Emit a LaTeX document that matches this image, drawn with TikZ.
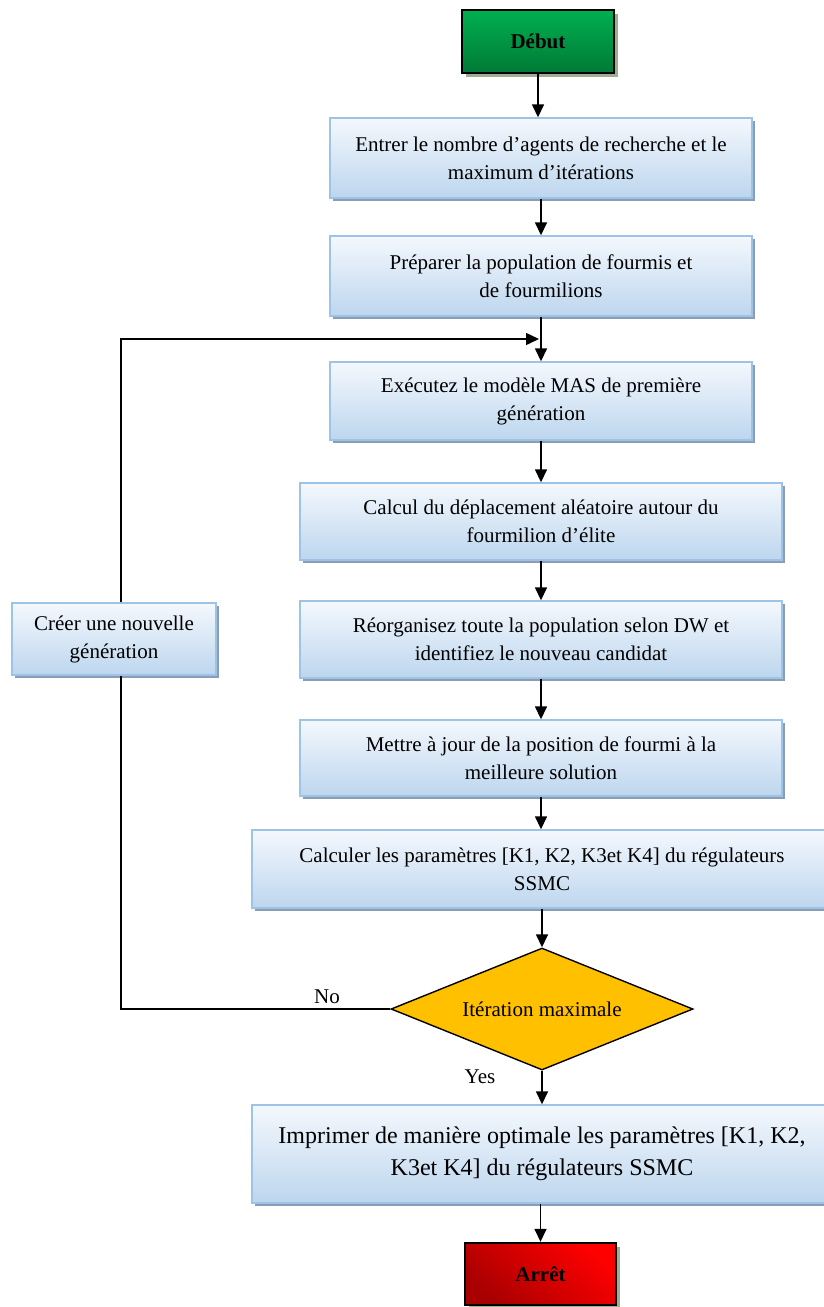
\documentclass[tikz,border=0pt]{standalone}
\usepackage{fontspec}
\setmainfont{Liberation Serif}
\usetikzlibrary{shapes.geometric,arrows.meta,shadows}

\definecolor{boxtop}{HTML}{F4F8FD}
\definecolor{boxbot}{HTML}{BDD6EE}
\definecolor{boxline}{HTML}{9DC3E6}
\definecolor{boxshadow}{HTML}{8A9DB5}
\definecolor{termshadow}{HTML}{9EAE8E}
\definecolor{gotop}{HTML}{00B050}
\definecolor{gobot}{HTML}{007A36}
\definecolor{stopbright}{HTML}{FF0000}
\definecolor{stopdark}{HTML}{A80000}
\definecolor{decfill}{HTML}{FFC000}

\tikzset{
  txt/.style={font=\fontsize{21}{28}\selectfont, align=center},
  procbox/.style={txt, rectangle, inner sep=0pt, draw=boxline, line width=1.4pt,
    top color=boxtop, bottom color=boxbot,
    drop shadow={shadow xshift=3pt, shadow yshift=-3pt, fill=boxshadow, opacity=1}},
  termbox/.style={txt, rectangle, inner sep=0pt, draw=black, line width=2.4pt,
    font=\fontsize{21}{28}\selectfont\bfseries,
    drop shadow={shadow xshift=4pt, shadow yshift=-4pt, fill=termshadow, opacity=1}},
  decbox/.style={txt, diamond, aspect=2.47, inner sep=0pt, draw=black,
    line width=1.4pt, fill=decfill},
  flow/.style={line width=1.5pt, draw=black},
  arr/.style={flow, -{Triangle[length=13pt,width=12pt]}},
  lbl/.style={font=\fontsize{21}{28}\selectfont, inner sep=0pt}
}

\begin{document}
\begin{tikzpicture}[x=1pt, y=-1pt]
  \useasboundingbox (0,0) rectangle (824,1307);
  \clip (0,0) rectangle (824,1307);

  % main column
  \node[termbox, top color=gotop, bottom color=gobot,
        minimum width=152pt, minimum height=63pt] (start) at (538,41.5) {Début};
  \node[procbox, minimum width=422pt, minimum height=80pt] (b1) at (541,158)
    {Entrer le nombre d’agents de recherche et le\\maximum d’itérations};
  \node[procbox, minimum width=422pt, minimum height=80pt] (b2) at (541,276)
    {Préparer la population de fourmis et\\de fourmilions};
  \node[procbox, minimum width=422pt, minimum height=78pt] (b3) at (541,401)
    {Exécutez le modèle MAS de première\\génération};
  \node[procbox, minimum width=482pt, minimum height=77pt] (b4) at (541,521.5)
    {Calcul du déplacement aléatoire autour du\\fourmilion d’élite};
  \node[procbox, minimum width=482pt, minimum height=77pt] (b5) at (541,639.5)
    {Réorganisez toute la population selon DW et\\identifiez le nouveau candidat};
  \node[procbox, minimum width=482pt, minimum height=76pt] (b6) at (541,758)
    {Mettre à jour de la position de fourmi à la\\meilleure solution};
  \node[procbox, minimum width=580pt, minimum height=78pt] (b7) at (542,869)
    {Calculer les paramètres [K1, K2, K3et K4] du régulateurs\\SSMC};
  \node[decbox, minimum width=302pt, minimum height=122pt] (dec) at (542,1009)
    {Itération maximale};
  \node[procbox, font=\fontsize{24}{32}\selectfont,
        minimum width=580pt, minimum height=98pt] (b8) at (542,1154)
    {Imprimer de manière optimale les paramètres [K1, K2,\\K3et K4] du régulateurs SSMC};
  \node[termbox, top color=stopbright, bottom color=stopdark, shading angle=-40,
        minimum width=151pt, minimum height=62pt] (stop) at (540.5,1274) {Arrêt};

  % side box of the loop
  \node[procbox, minimum width=204pt, minimum height=72pt] (newgen) at (114,639)
    {Créer une nouvelle\\génération};

  % guide points
  \coordinate (spine) at (541,0);
  \coordinate (loopx) at (121,0);
  \coordinate (loopin) at (539,339);

  % main flow
  \draw[arr] (start.south) -- (start.south |- b1.north);
  \draw[arr] (b1.south -| spine) -- (b2.north -| spine);
  \draw[arr] (b2.south -| spine) -- (b3.north -| spine);
  \draw[arr] (b3.south -| spine) -- (b4.north -| spine);
  \draw[arr] (b4.south -| spine) -- (b5.north -| spine);
  \draw[arr] (b5.south -| spine) -- (b6.north -| spine);
  \draw[arr] (b6.south -| spine) -- (b7.north -| spine);
  \draw[arr] (b7.south -| dec.north) -- (dec.north);
  \draw[arr] (dec.south) -- (dec.south |- b8.north);
  \draw[arr] (b8.south -| stop.north) -- (stop.north);

  % loop back
  \draw[flow] (dec.west) -- (dec.west -| loopx) -- (newgen.south -| loopx);
  \draw[arr] (newgen.north -| loopx) |- (loopin);

  % branch labels
  \node[lbl] (nolbl) at (327,997) {No};
  \node[lbl] (yeslbl) at (480,1077) {Yes};
\end{tikzpicture}
\end{document}
